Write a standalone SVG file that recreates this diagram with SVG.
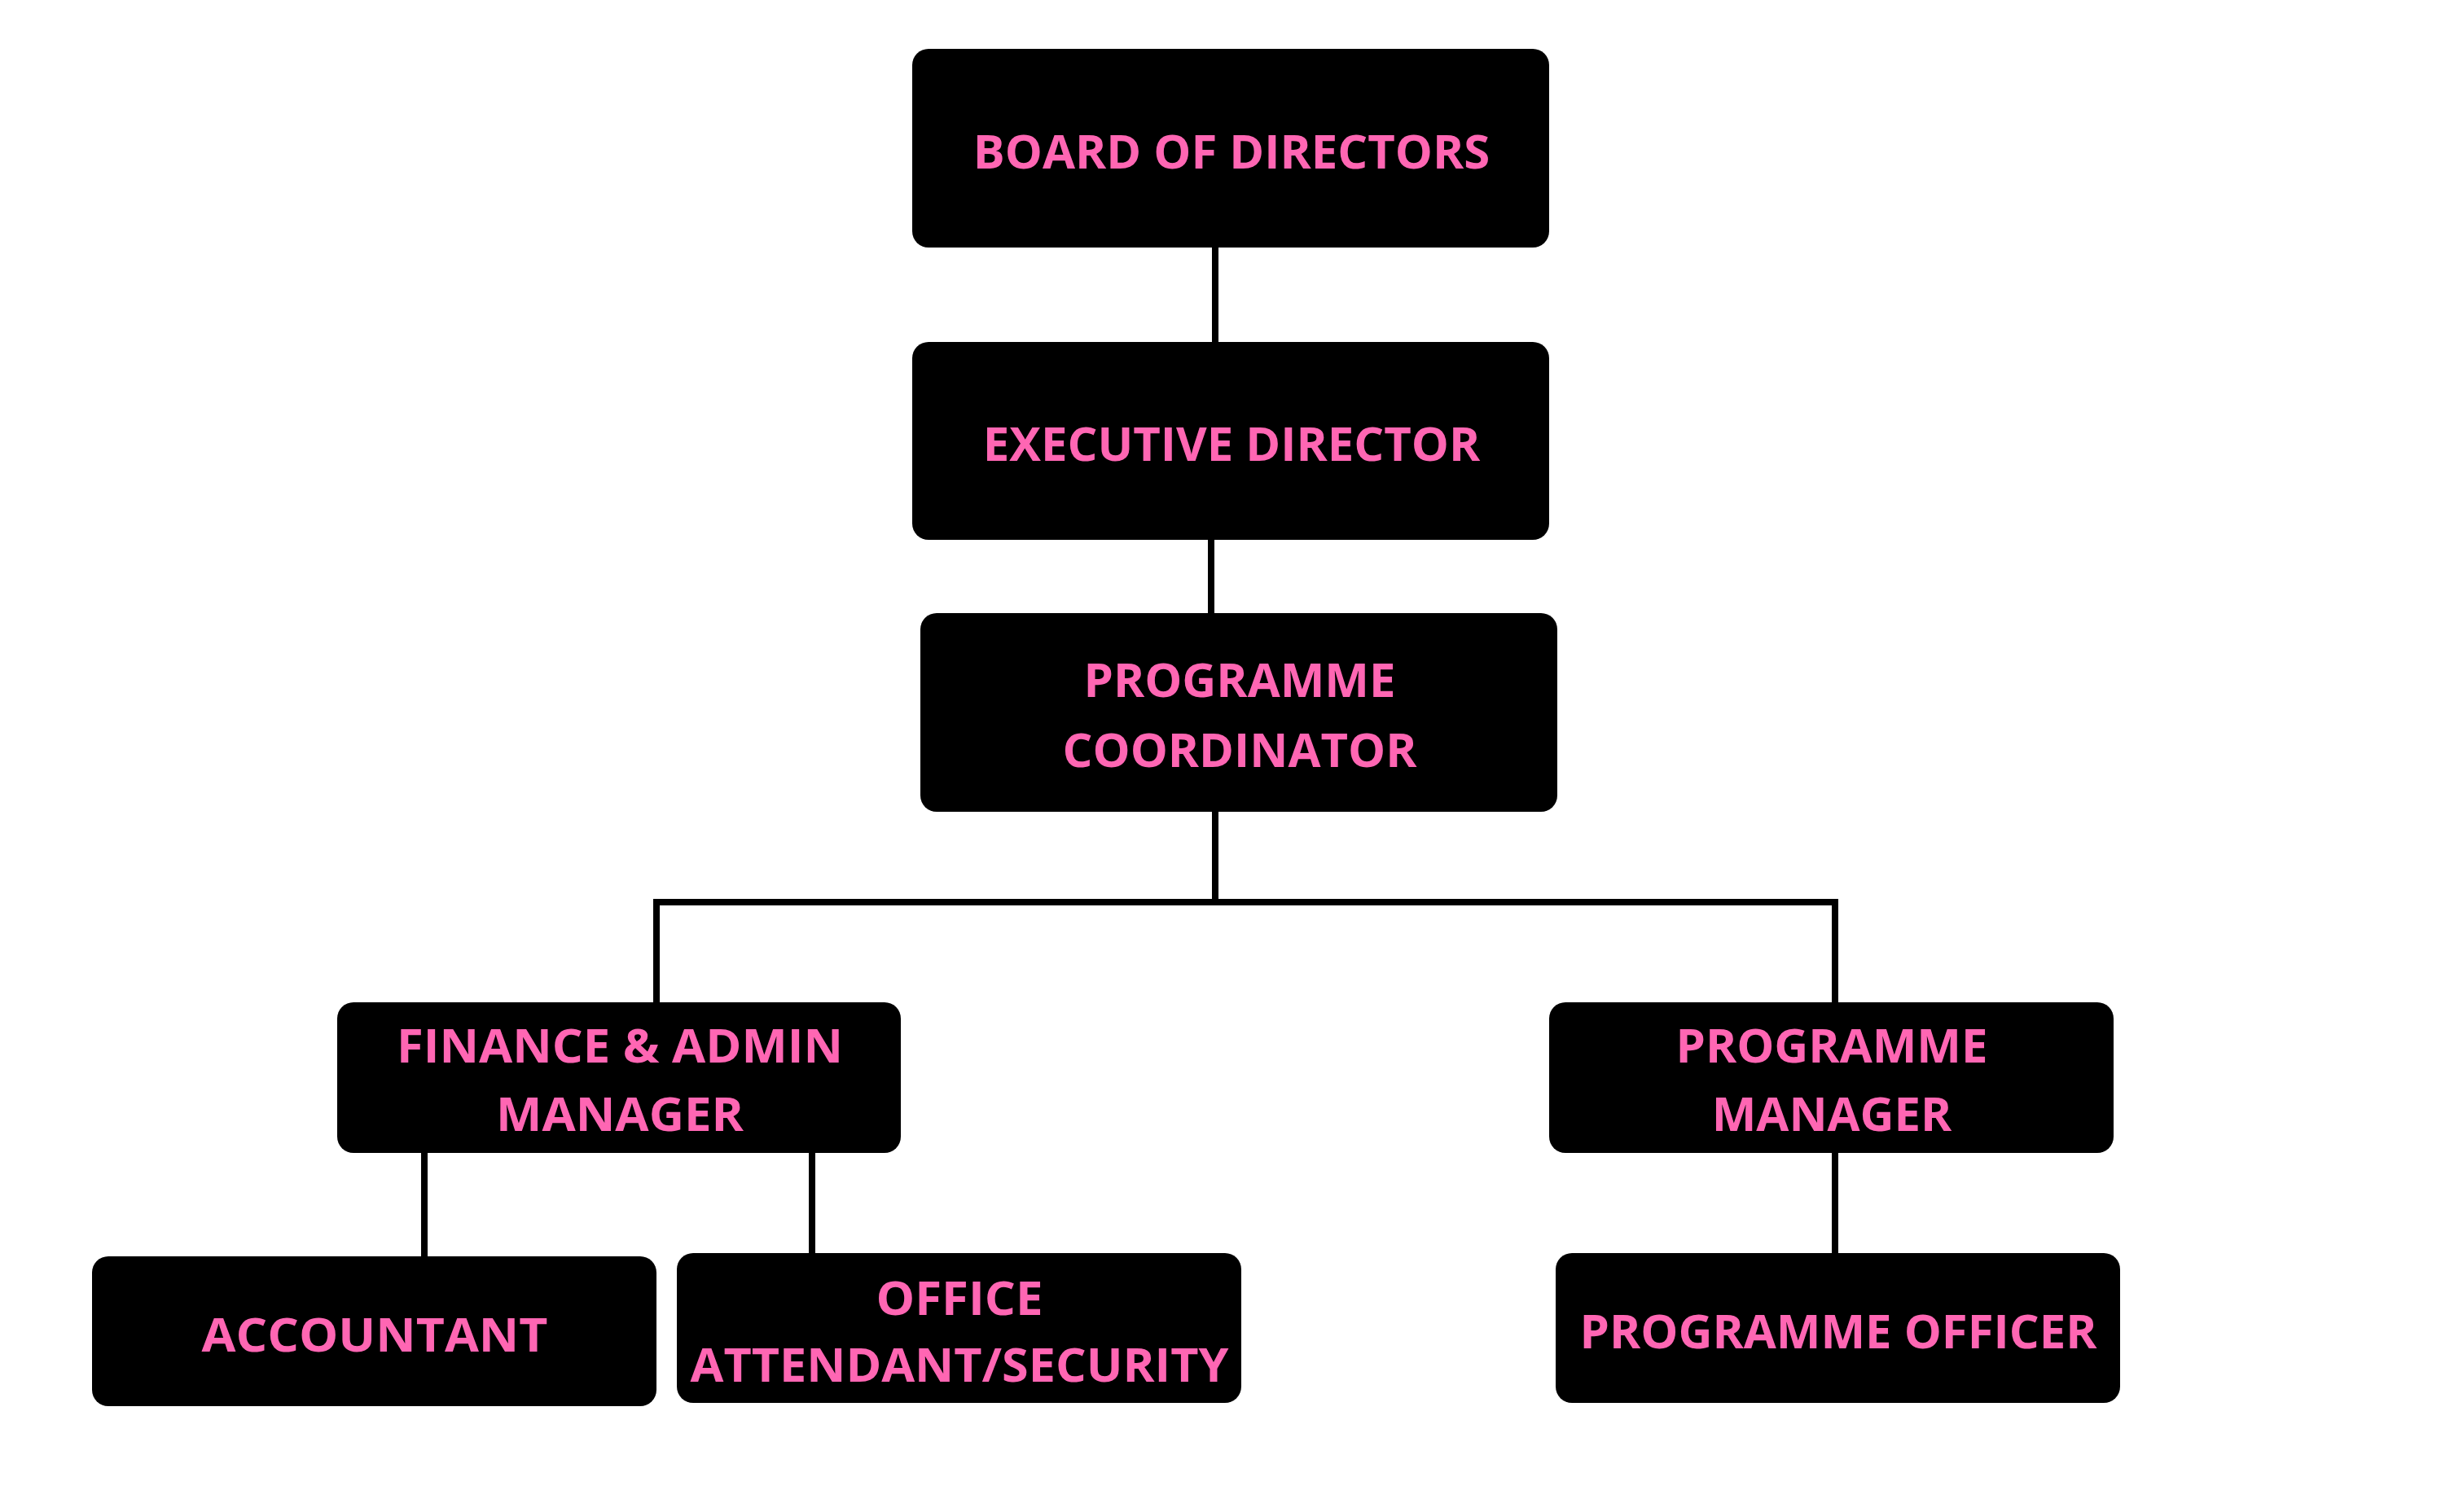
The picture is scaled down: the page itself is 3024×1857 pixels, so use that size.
<svg xmlns="http://www.w3.org/2000/svg" width="3024" height="1857" viewBox="0 0 3024 1857">
<style>
.box{fill:#000}
.t{fill:#FF66B3;font-family:"Open Sans","Liberation Sans",sans-serif;font-weight:700;font-size:58px;text-anchor:middle}
.c{stroke:#000;stroke-width:8;fill:none}
</style>
<rect width="3024" height="1857" fill="#fff"/>
<g id="connectors">
<path class="c" d="M1492 304V420"/>
<path class="c" d="M1487 663V753"/>
<path class="c" d="M806 1231V1108H2253V1231M1492 997V1108"/>
<path class="c" d="M521 1416V1543"/>
<path class="c" d="M997 1416V1539"/>
<path class="c" d="M2253 1416V1539"/>
</g>
<g id="board"><rect class="box" x="1120" y="60" width="782" height="244" rx="20"/><text class="t" x="1512" y="207">BOARD OF DIRECTORS</text></g>
<g id="exec"><rect class="box" x="1120" y="420" width="782" height="243" rx="20"/><text class="t" x="1512" y="566">EXECUTIVE DIRECTOR</text></g>
<g id="coord"><rect class="box" x="1130" y="753" width="782" height="244" rx="20"/><text class="t" x="1522" y="856">PROGRAMME</text><text class="t" x="1522" y="942">COORDINATOR</text></g>
<g id="finance"><rect class="box" x="414" y="1231" width="692" height="185" rx="20"/><text class="t" x="761" y="1305" textLength="548" lengthAdjust="spacingAndGlyphs">FINANCE &amp; ADMIN</text><text class="t" x="761" y="1389" textLength="304" lengthAdjust="spacingAndGlyphs">MANAGER</text></g>
<g id="pmanager"><rect class="box" x="1902" y="1231" width="693" height="185" rx="20"/><text class="t" x="2249" y="1305">PROGRAMME</text><text class="t" x="2249" y="1389">MANAGER</text></g>
<g id="accountant"><rect class="box" x="113" y="1543" width="693" height="184" rx="20"/><text class="t" x="460" y="1660" textLength="425" lengthAdjust="spacingAndGlyphs">ACCOUNTANT</text></g>
<g id="office"><rect class="box" x="831" y="1539" width="693" height="184" rx="20"/><text class="t" x="1178" y="1615" textLength="205" lengthAdjust="spacingAndGlyphs">OFFICE</text><text class="t" x="1178" y="1697" textLength="661" lengthAdjust="spacingAndGlyphs">ATTENDANT/SECURITY</text></g>
<g id="officer"><rect class="box" x="1910" y="1539" width="693" height="184" rx="20"/><text class="t" x="2257" y="1656">PROGRAMME OFFICER</text></g>
</svg>
